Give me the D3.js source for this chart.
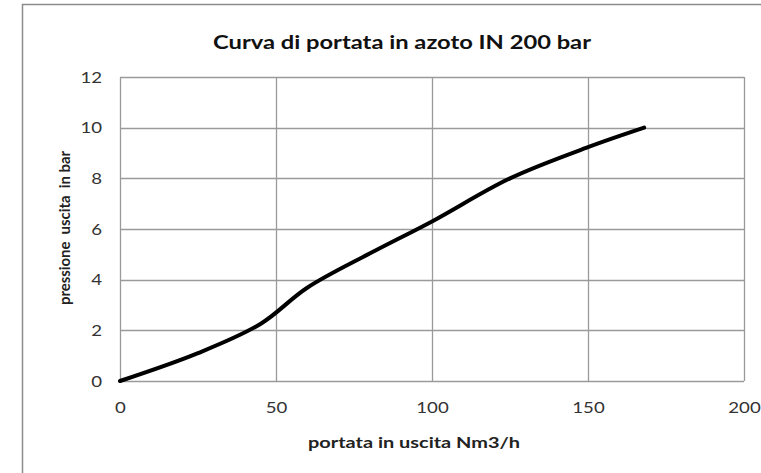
<!DOCTYPE html>
<html>
<head>
<meta charset="utf-8">
<script src="https://cdn.jsdelivr.net/npm/d3@7"></script>
<style>
  body { margin: 0; background: #fff; }
  svg { display: block; }
  text { font-family: Lato, "Open Sans", sans-serif; }
</style>
</head>
<body>
<div id="chart"></div>
<script>
// flow (Nm3/h)
var portata = [0, 25, 45, 60, 80, 100, 125, 150, 168];
// outlet pressure (bar)
var pressione = [0, 1.1, 2.25, 3.68, 5.03, 6.3, 8.0, 9.23, 10];
var xTicks = [0, 50, 100, 150, 200];
var yTicks = [0, 2, 4, 6, 8, 10, 12];

var W = 761, H = 473;
var margin = { top: 77, right: 17, bottom: 92, left: 120 },
    width = W - margin.left - margin.right,
    height = H - margin.top - margin.bottom;

var svg = d3.select("#chart").append("svg")
    .attr("width", W)
    .attr("height", H);

// outer chart border (runs off the right/bottom of the picture)
svg.append("path")
    .attr("d", "M22.5," + (H + 5) + "V4.5H" + (W + 5))
    .attr("fill", "none")
    .attr("stroke", "#8c8c8c")
    .attr("stroke-width", 1.5);

svg.append("text")
    .attr("x", 402)
    .attr("y", 49)
    .attr("text-anchor", "middle")
    .attr("font-size", 19)
    .attr("font-weight", "bold")
    .attr("fill", "#111")
    .attr("textLength", 378)
    .attr("lengthAdjust", "spacingAndGlyphs")
    .text("Curva di portata in azoto IN 200 bar");

var g = svg.append("g")
    .attr("transform", "translate(" + margin.left + "," + margin.top + ")");

var x = d3.scaleLinear().domain([0, 200]).range([0, width]);
var y = d3.scaleLinear().domain([0, 12]).range([height, 0]);

// grid
g.append("g")
    .selectAll("line")
    .data(yTicks)
    .enter().append("line")
    .attr("x1", 0).attr("x2", width)
    .attr("y1", d => Math.round(y(d)) + 0.5).attr("y2", d => Math.round(y(d)) + 0.5)
    .attr("stroke", "#9a9a9a")
    .attr("stroke-width", 1.3);

g.append("g")
    .selectAll("line")
    .data(xTicks)
    .enter().append("line")
    .attr("y1", 0).attr("y2", height)
    .attr("x1", d => Math.round(x(d)) + 0.5).attr("x2", d => Math.round(x(d)) + 0.5)
    .attr("stroke", "#9a9a9a")
    .attr("stroke-width", 1.3);

// axes: labels only
var xAxis = g.append("g")
    .attr("transform", "translate(0," + height + ")")
    .call(d3.axisBottom(x).tickValues(xTicks).tickSize(0).tickPadding(21));
var yAxis = g.append("g")
    .call(d3.axisLeft(y).tickValues(yTicks).tickSize(0).tickPadding(18));
[xAxis, yAxis].forEach(a => {
    a.select(".domain").remove();
    a.selectAll("text")
        .attr("font-family", "Lato, 'Open Sans', sans-serif")
        .attr("font-size", 16)
        .attr("fill", "#333")
        .attr("textLength", function() { return this.textContent.length * 10.8; })
        .attr("lengthAdjust", "spacingAndGlyphs");
});

// curve
var line = d3.line()
    .x((d, i) => x(portata[i]))
    .y(d => y(d))
    .curve(d3.curveCatmullRom.alpha(0.5));

g.append("path")
    .datum(pressione)
    .attr("d", line)
    .attr("fill", "none")
    .attr("stroke", "#000")
    .attr("stroke-width", 4)
    .attr("stroke-linecap", "round");

svg.append("text")
    .attr("x", 414)
    .attr("y", 448)
    .attr("text-anchor", "middle")
    .attr("font-size", 16)
    .attr("font-weight", "bold")
    .attr("fill", "#222")
    .attr("textLength", 212)
    .attr("lengthAdjust", "spacingAndGlyphs")
    .text("portata in uscita Nm3/h");

svg.append("text")
    .attr("transform", "translate(70,228) rotate(-90)")
    .attr("text-anchor", "middle")
    .attr("font-size", 15)
    .attr("font-weight", "bold")
    .attr("fill", "#222")
    .attr("textLength", 154)
    .attr("lengthAdjust", "spacingAndGlyphs")
    .style("white-space", "pre")
    .text("pressione  uscita  in bar");
</script>
</body>
</html>
